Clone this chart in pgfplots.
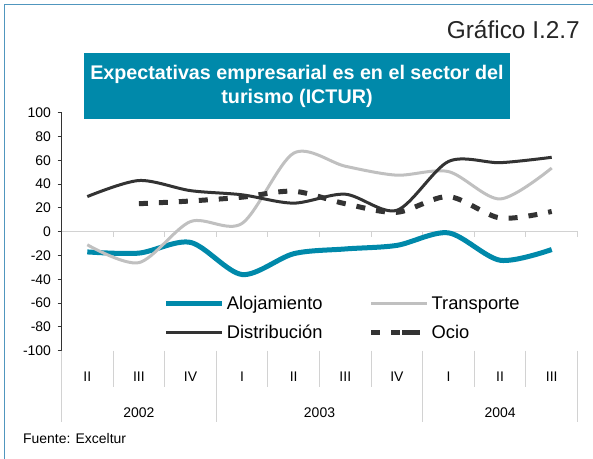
\documentclass[border=0pt]{standalone}
\usepackage{fontspec}
\setmainfont{Liberation Sans}
\usepackage{pgfplots}
\pgfplotsset{compat=1.18}
\definecolor{teal1}{RGB}{0,137,170}
\definecolor{lgray}{RGB}{192,192,192}
\definecolor{dgray}{RGB}{51,51,51}
\definecolor{sepgray}{RGB}{210,210,210}
\definecolor{framecol}{RGB}{80,150,190}
\begin{document}
\begin{tikzpicture}[x=1bp,y=1bp]
\path[use as bounding box] (0,0) rectangle (593,459);
\draw[framecol, line width=1bp] (4.5,0) -- (4.5,454.5) -- (593,454.5);
\begin{axis}[
  at={(61.5bp,108.3bp)}, anchor=south west,
  scale only axis, width=516bp, height=238bp,
  xmin=0, xmax=10, ymin=-100, ymax=100,
  clip=false,
  axis y line*=left, axis x line*=bottom,
  x axis line style={draw=none},
  y axis line style={dgray, line width=0.8bp},
  ytick={-100,-80,...,100},
  ytick style={dgray, line width=0.8bp},
  tick align=outside, major tick length=4bp,
  xtick={0.5,1.5,...,9.5},
  xticklabels={II,III,IV,I,II,III,IV,I,II,III},
  xtick style={draw=none},
  xticklabel style={anchor=base, yshift=-27bp},
  yticklabel style={xshift=-3bp},
  ticklabel style={font=\fontsize{14}{16}\selectfont},
  /pgf/number format/assume math mode=true,
  legend columns=2,
  legend cell align=left,
  legend style={draw=none, fill=none, at={(axis cs:1.98,-52.5)}, anchor=north west,
    font=\fontsize{18.4}{20}\selectfont, inner sep=0pt, row sep=10bp,
    /tikz/every even column/.append style={column sep=44bp}},
  legend image code/.code={\draw[#1] (0bp,0bp) -- (56bp,0bp);},
]
\draw[sepgray, line width=1.5bp] (axis cs:0,0) -- (axis cs:10,0);
\pgfplotsinvokeforeach{1,2,3,4,5,6,7,8,9,10}{\draw[sepgray, line width=1bp] (axis cs:#1,0) -- (axis cs:#1,-4.2);}
\pgfplotsinvokeforeach{1,2,4,5,6,8,9}{\draw[sepgray, line width=1bp] (axis cs:#1,-100) -- (axis cs:#1,-130.3);}
\pgfplotsinvokeforeach{0,3,7,10}{\draw[sepgray, line width=1bp] (axis cs:#1,-100) -- (axis cs:#1,-159.8);}
\node[anchor=base, font=\fontsize{14}{16}\selectfont, yshift=-67bp] at (axis cs:1.5,-100) {2002};
\node[anchor=base, font=\fontsize{14}{16}\selectfont, yshift=-67bp] at (axis cs:5,-100) {2003};
\node[anchor=base, font=\fontsize{14}{16}\selectfont, yshift=-67bp] at (axis cs:8.5,-100) {2004};

\addplot[teal1, line width=5bp, smooth] coordinates {(0.5,-17) (1.5,-18) (2.5,-9) (3.5,-36) (4.5,-18.5) (5.5,-14.5) (6.5,-11.5) (7.5,-1) (8.5,-24) (9.5,-15)};
\addlegendentry{Alojamiento}
\addplot[lgray, line width=3bp, smooth] coordinates {(0.5,-11) (1.5,-26) (2.5,8.5) (3.5,7) (4.5,66) (5.5,55) (6.5,47.5) (7.5,50.5) (8.5,27.5) (9.5,53.5)};
\addlegendentry{Transporte}
\addplot[dgray, line width=3bp, smooth] coordinates {(0.5,29.5) (1.5,43) (2.5,34.5) (3.5,31) (4.5,24) (5.5,31.5) (6.5,18) (7.5,59) (8.5,58) (9.5,62.5)};
\addlegendentry{Distribución}
\addplot[dgray, line width=5bp, smooth, dash pattern=on 9bp off 11bp,
  legend image code/.code={\draw[solid, dgray, line width=5bp] (0bp,0bp) -- (9bp,0bp) (31bp,0bp) -- (41bp,0bp); \path (0bp,0bp) -- (56bp,0bp);}] coordinates {(1.5,23.5) (2.5,25.8) (3.5,29) (4.5,34) (5.5,23.5) (6.5,16.3) (7.5,29.5) (8.5,11.5) (9.5,17)};
\addlegendentry{Ocio}
\end{axis}
\node[fill=teal1, minimum width=426bp, minimum height=66bp, inner sep=0pt, text=white, align=center, font=\bfseries\fontsize{19.8}{24}\selectfont] at (297,373) {Expectativas empresarial es en el sector del\\turismo (ICTUR)};
\node[anchor=base east, inner sep=0pt, font=\fontsize{24.5}{28}\selectfont, text=black!85] at (580,420.7) {Gráfico I.2.7};
\node[anchor=base west, inner sep=0pt, font=\fontsize{14}{16}\selectfont] at (23,15) {Fuente: Exceltur};
\end{tikzpicture}
\end{document}
